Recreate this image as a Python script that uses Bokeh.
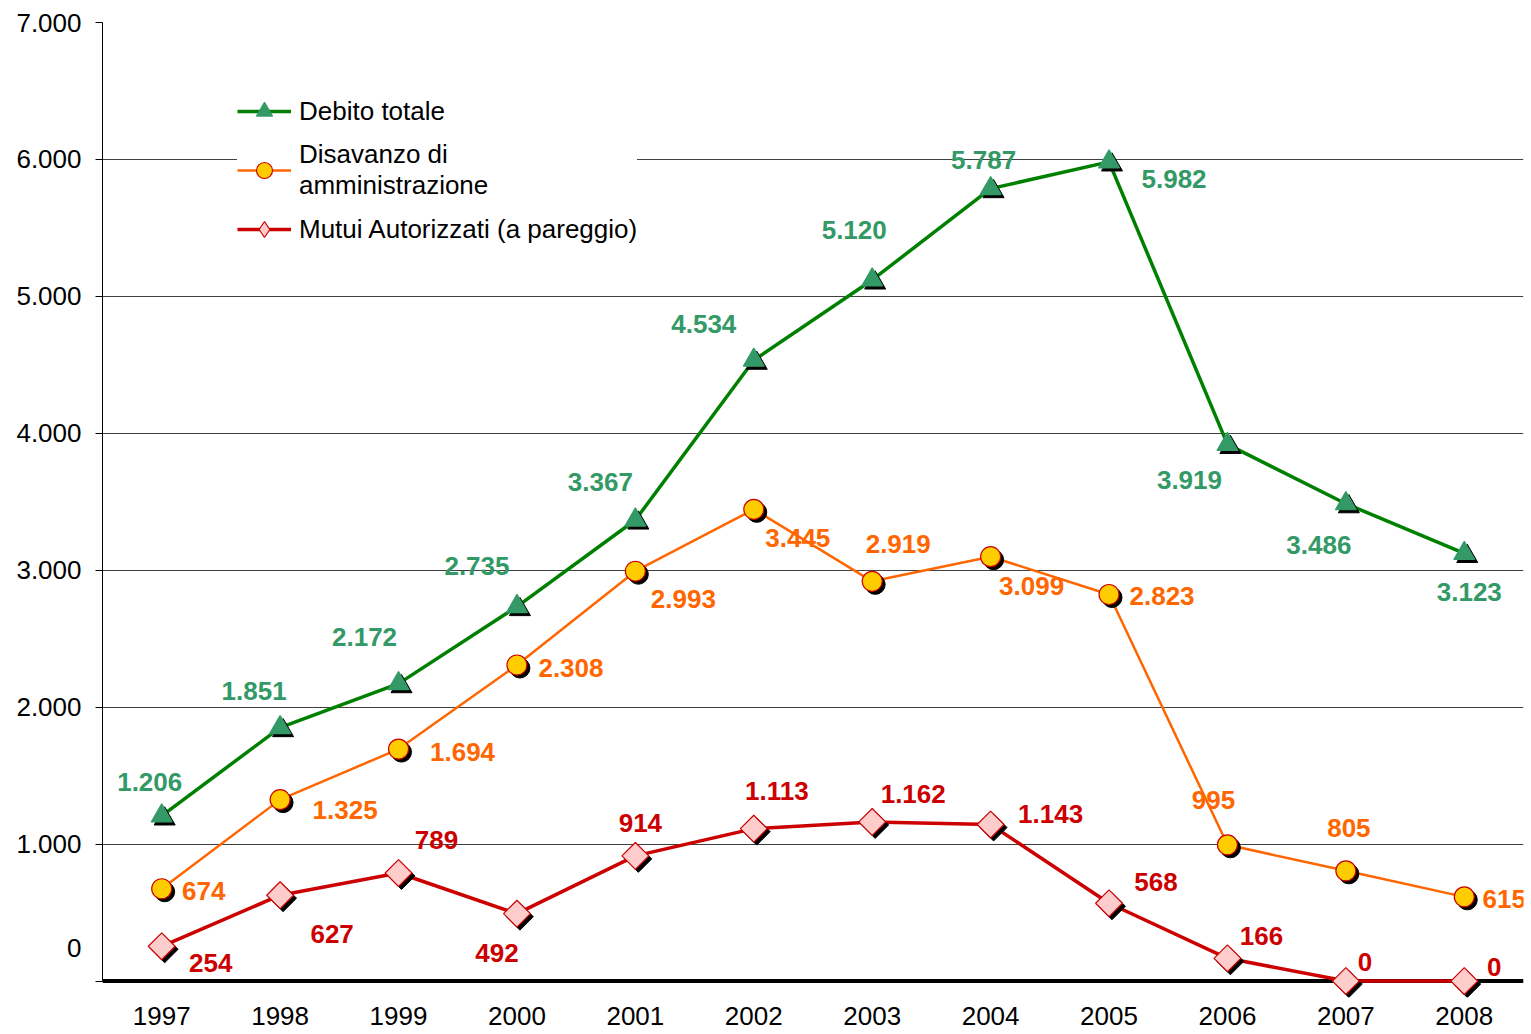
from bokeh.plotting import figure
from bokeh.models import (ColumnDataSource, Legend, LegendItem, FixedTicker,
                          Range1d, Span)
from bokeh.core.properties import value
from bokeh.embed import file_html
from bokeh.resources import INLINE
import math

years = [1997, 1998, 1999, 2000, 2001, 2002, 2003, 2004, 2005, 2006, 2007, 2008]
debito_totale = [1206, 1851, 2172, 2735, 3367, 4534, 5120, 5787, 5982, 3919, 3486, 3123]
disavanzo = [674, 1325, 1694, 2308, 2993, 3445, 2919, 3099, 2823, 995, 805, 615]
mutui = [254, 627, 789, 492, 914, 1113, 1162, 1143, 568, 166, 0, 0]
y_ticks = [0, 1000, 2000, 3000, 4000, 5000, 6000, 7000]
y_tick_labels = ["0", "1.000", "2.000", "3.000", "4.000", "5.000", "6.000", "7.000"]
series_names = ["Debito totale", "Disavanzo di\namministrazione", "Mutui Autorizzati (a pareggio)"]

# label offsets (screen px) - styling
deb_dx = [-12, -26, -34, -40, -35, -50, -18, -7, 65, -38, -27, 5]
deb_dy = [-34, -37, -47, -41, -38, -36, -50, -29, 17, 36, 41, 39]
dis_dx = [42, 65, 64, 54, 48, 44, 26, 41, 53, -14, 3, 40]
dis_dy = [2, 10, 3, 3, 28, 29, -37, 29, 2, -45, -43, 2]
mut_dx = [49, 52, 38, -20, 5, 23, 41, 60, 47, 34, 19, 30]
mut_dy = [17, 39, -33, 39, -33, -38, -28, -11, -21, -22, -19, -14]

FONT = "Liberation Sans"
FS = "26px"
SHADOW_DX = 0.025
SHADOW_DY = -22
ZERO_LABEL_SHIFT = 240   # the reference prints its "0" label above the zero line


def fmt(v):
    return f"{v:,}".replace(",", ".")


p = figure(width=1528, height=1032, output_backend="svg", toolbar_location=None,
           x_range=Range1d(1996.5, 2008.5), y_range=Range1d(-120, 7000),
           min_border_left=102, min_border_right=5, min_border_top=22, min_border_bottom=35)
p.outline_line_color = None
p.background_fill_color = "white"

# x axis
p.xaxis.ticker = FixedTicker(ticks=years)
p.xaxis.major_label_overrides = {y: str(y) for y in years}
p.xaxis.axis_line_color = None
p.xaxis.major_tick_line_color = None
p.xaxis.major_tick_out = 0
p.xaxis.major_tick_in = 0
p.xaxis.minor_tick_line_color = None
p.xaxis.major_label_standoff = 9
p.xaxis.major_label_text_font = FONT
p.xaxis.major_label_text_font_size = FS
p.xaxis.major_label_text_color = "black"

# y axis: labels on shifted positions for "0", tick marks on the real values
label_pos = [t + (ZERO_LABEL_SHIFT if t == 0 else 0) for t in y_ticks]
p.yaxis.ticker = FixedTicker(ticks=label_pos, minor_ticks=y_ticks)
p.yaxis.bounds = (0, 7000)
p.yaxis.major_label_overrides = dict(zip(label_pos, y_tick_labels))
p.yaxis.axis_line_color = "black"
p.yaxis.axis_line_width = 1
p.yaxis.major_tick_line_color = None
p.yaxis.major_tick_in = 0
p.yaxis.major_tick_out = 7
p.yaxis.minor_tick_line_color = "black"
p.yaxis.minor_tick_in = 0
p.yaxis.minor_tick_out = 7
p.yaxis.major_label_standoff = 14
p.yaxis.major_label_text_font = FONT
p.yaxis.major_label_text_font_size = FS
p.yaxis.major_label_text_color = "black"

p.xgrid.grid_line_color = None
p.ygrid.ticker = FixedTicker(ticks=y_ticks)
p.ygrid.grid_line_color = "#404040"
p.ygrid.grid_line_width = 1

# thick category axis line at zero
p.add_layout(Span(location=0, dimension="width", line_color="black", line_width=4,
                  level="underlay"))

specs = [
    (debito_totale, deb_dx, deb_dy, "#008000", 3.5, "triangle", "triangle", "#339966", "#339966", 21, 0, "#339966"),
    (disavanzo, dis_dx, dis_dy, "#FF6600", 2.5, "circle", "circle", "#FFCC00", "#CC0000", 20, 0, "#FF6600"),
    (mutui, mut_dx, mut_dy, "#CC0000", 3.5, "square", "diamond", "#FFCCCC", "#CC0000", 19, math.pi / 4, "#CC0000"),
]

legend_items = []
for (vals, dx, dy, lcol, lw, marker, lmarker, fill, mline, msize, ang, tcol), name in zip(specs, series_names):
    src = ColumnDataSource(dict(
        x=years, y=vals,
        xs=[x + SHADOW_DX for x in years], ys=[v + SHADOW_DY for v in vals],
        lab=[fmt(v) for v in vals], dx=dx, dy=dy,
    ))
    lr = p.line("x", "y", source=src, line_color=lcol, line_width=lw)
    p.scatter("xs", "ys", source=src, marker=marker, size=msize, angle=ang,
              fill_color="black", line_color="black")
    p.scatter("x", "y", source=src, marker=marker, size=msize, angle=ang,
              fill_color=fill, line_color=mline, line_width=1.2)
    # legend-only marker (zero size on the plot)
    lg = p.scatter("x", "y", source=src, marker=lmarker, size=0,
                   fill_color=fill, line_color=mline, line_width=1.2)
    p.text("x", "y", text="lab", source=src, x_offset="dx", y_offset="dy",
           text_font=value(FONT), text_font_size=FS, text_font_style="bold",
           text_color=tcol, text_align="center", text_baseline="middle")
    legend_items.append(LegendItem(label=name, renderers=[lr, lg]))

legend = Legend(items=legend_items, location=(135, 748),
                label_text_font=FONT, label_text_font_size=FS, label_text_color="black",
                glyph_width=54, glyph_height=40, label_standoff=8, spacing=8,
                padding=6, margin=0, border_line_color=None,
                background_fill_color="white", background_fill_alpha=1.0,
                label_height=30)
p.add_layout(legend)

open("out.html", "w").write(file_html(p, INLINE))
